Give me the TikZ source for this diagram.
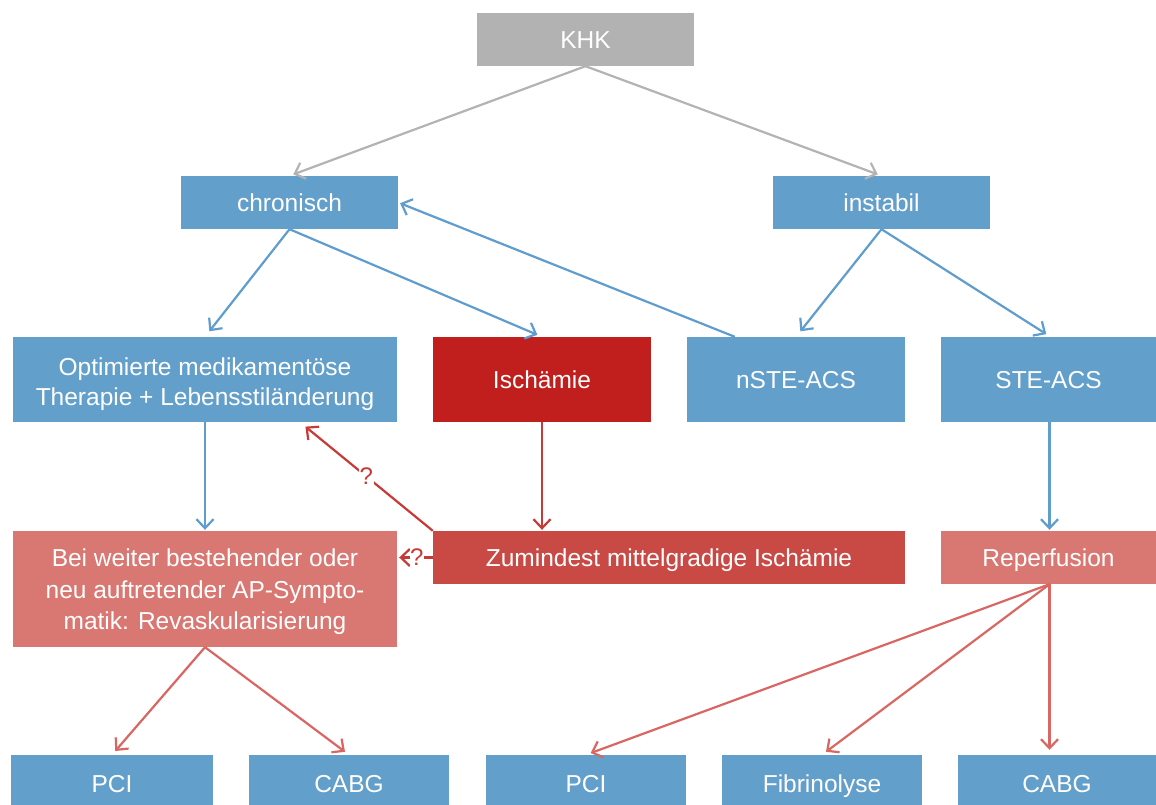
\documentclass[tikz,border=0pt]{standalone}
\usepackage{fontspec}
\setmainfont{Liberation Sans}
\usetikzlibrary{arrows.meta}
\definecolor{cblue}{HTML}{629FCA}
\definecolor{cgray}{HTML}{B2B2B2}
\definecolor{cdred}{HTML}{C01F1D}
\definecolor{cmred}{HTML}{C94A45}
\definecolor{clred}{HTML}{D97772}
\definecolor{ablue}{HTML}{5E9DCD}
\definecolor{agray}{HTML}{B3B3B3}
\definecolor{ared}{HTML}{D96662}
\definecolor{adred}{HTML}{C73A35}
\begin{document}
\begin{tikzpicture}[x=1pt,y=-1pt,
  box/.style={draw=none,inner sep=0pt,text=white,align=center,
    font=\fontsize{24.5}{30}\selectfont},
  oneline/.style={text height=18pt,text depth=0pt},
  multi/.style={},
  conn/.style={line width=2.2pt,-{Straight Barb[length=9pt,width=17pt,line width=2.2pt]}},
  qm/.style={fill=white,inner sep=1pt,font=\fontsize{24}{26}\selectfont}]
\useasboundingbox (0,0) rectangle (1156,805);
% boxes
\newcommand{\bx}[7][oneline]{\node[box,#1,fill=#3,minimum width=#6-#4,minimum height=#7-#5] (#2) at ({(#4+#6)/2},{(#5+#7)/2})}
\bx{khk}{cgray}{477}{13}{694}{66}{KHK};
\bx{chr}{cblue}{181}{176}{398}{229}{chronisch};
\bx{ins}{cblue}{773}{176}{990}{229}{instabil};
\bx[multi]{opt}{cblue}{13}{337}{397}{422}{\raisebox{-5pt}[\height][\depth]{\fontsize{24.5}{29.5}\selectfont\begin{tabular}{@{}c@{}}Optimierte medikamentöse\\Therapie + Lebensstiländerung\end{tabular}}};
\bx{isc}{cdred}{433}{337}{651}{422}{Ischämie};
\bx{nste}{cblue}{687}{337}{905}{422}{nSTE-ACS};
\bx{ste}{cblue}{941}{337}{1160}{422}{\hspace*{-4pt}STE-ACS};
\bx[multi]{bei}{clred}{13}{531}{397}{647}{\raisebox{-3pt}[\height][\depth]{\fontsize{24.5}{31.5}\selectfont\begin{tabular}{@{}c@{}}Bei weiter bestehender oder\\neu auftretender AP-Sympto-\\matik: Revaskularisierung\end{tabular}}};
\bx{zum}{cmred}{433}{531}{905}{584}{Zumindest mittelgradige Ischämie};
\bx{rep}{clred}{941}{531}{1160}{584}{\hspace*{-4pt}Reperfusion};
\bx{pcia}{cblue}{11}{755}{213}{812}{PCI};
\bx{cabga}{cblue}{249}{755}{449}{812}{CABG};
\bx{pcib}{cblue}{486}{755}{686}{812}{PCI};
\bx{fib}{cblue}{722}{755}{922}{812}{Fibrinolyse};
\bx{cabgb}{cblue}{958}{755}{1160}{812}{\hspace*{-4pt}CABG};
% connectors
\draw[conn,agray,shorten >=4pt] (khk.south) -- (chr.north);
\draw[conn,agray,shorten >=4pt] (khk.south) -- (ins.north);
\draw[conn,ablue,shorten >=7pt] (chr.south) -- (opt.north);
\draw[conn,ablue,shorten >=5pt] (chr.south) -- (isc.north);
\draw[conn,ablue,shorten >=2pt] ([xshift=48pt]nste.north west) -- (chr.east);
\draw[conn,ablue,shorten >=7pt] (ins.south) -- (nste.north);
\draw[conn,ablue,shorten >=5pt] (ins.south) -- (ste.north);
\draw[conn,ablue,shorten >=1pt] (opt.south) -- (bei.north);
\draw[conn,adred,shorten >=1pt] (isc.south) -- (isc.south |- zum.north);
\draw[conn,ablue,shorten >=1pt] ([xshift=-1pt]ste.south) -- ([xshift=-1pt]ste.south |- rep.north);
\draw[conn,adred,shorten >=7pt] (zum.north west) -- node[qm,text=adred,pos=0.5]{?} ([xshift=95pt]opt.south);
\draw[conn,adred,shorten >=2pt] (zum.west) -- node[qm,text=adred,pos=0.45,inner sep=0.5pt]{?} (zum.west -| bei.east);
\draw[conn,ared,shorten >=5pt] (bei.south) -- (pcia.north);
\draw[conn,ared,shorten >=5pt] (bei.south) -- (cabga.north);
\draw[conn,ared,shorten >=5pt] ([xshift=-1pt]rep.south) -- (pcib.north);
\draw[conn,ared,shorten >=5pt] ([xshift=-1pt]rep.south) -- (fib.north);
\draw[conn,ared,shorten >=5pt] ([xshift=-1pt]rep.south) -- ([xshift=-1pt]rep.south |- cabgb.north);
\end{tikzpicture}
\end{document}
